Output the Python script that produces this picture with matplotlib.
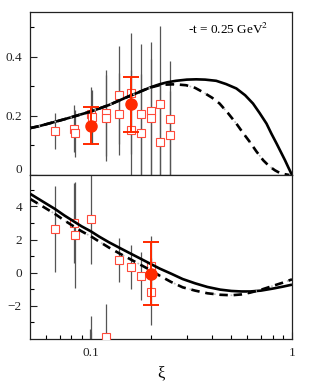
import matplotlib
matplotlib.use("Agg")
import matplotlib.pyplot as plt
from matplotlib.ticker import FixedLocator, NullFormatter
import matplotlib.transforms as mtransforms

plt.rcParams['font.family'] = ['Liberation Serif', 'DejaVu Serif']
plt.rcParams['mathtext.fontset'] = 'stix'

# ---------------- data: top panel ----------------
top_sq_xi  = [0.0663, 0.0822, 0.0832, 0.1003, 0.1010, 0.119, 0.119, 0.138, 0.138,
              0.158, 0.158, 0.1785, 0.1785, 0.199, 0.199, 0.2206, 0.2206, 0.2475, 0.2475]
top_sq_val = [0.148, 0.157, 0.141, 0.207, 0.196, 0.210, 0.193, 0.271, 0.207,
              0.276, 0.154, 0.205, 0.142, 0.216, 0.193, 0.242, 0.111, 0.188, 0.134]
top_sq_err = [0.061, 0.080, 0.080, 0.092, 0.092, 0.145, 0.145, 0.165, 0.140,
              0.205, 0.200, 0.238, 0.200, 0.235, 0.200, 0.262, 0.200, 0.199, 0.150]

top_pt_xi  = [0.1003, 0.158]
top_pt_val = [0.167, 0.240]
top_pt_err = [0.062, 0.093]

top_solid_xi  = [0.05, 0.055, 0.06, 0.0663, 0.074, 0.0822, 0.09, 0.1, 0.11, 0.123,
                 0.138, 0.155, 0.17, 0.184, 0.2, 0.219, 0.24, 0.265, 0.3, 0.334,
                 0.37, 0.42, 0.47, 0.529, 0.585, 0.64, 0.69, 0.747, 0.79, 0.839,
                 0.88, 0.923, 0.96, 1.0]
top_solid_val = [0.159, 0.165, 0.172, 0.180, 0.189, 0.198, 0.206, 0.215, 0.225, 0.237,
                 0.252, 0.267, 0.278, 0.288, 0.298, 0.307, 0.314, 0.319, 0.323, 0.324,
                 0.323, 0.319, 0.308, 0.293, 0.270, 0.242, 0.210, 0.174, 0.140, 0.106,
                 0.078, 0.050, 0.025, 0.0]
top_dash_xi  = [0.05, 0.055, 0.06, 0.0663, 0.074, 0.0822, 0.09, 0.1, 0.11, 0.123,
                0.138, 0.155, 0.17, 0.184, 0.2, 0.219, 0.235, 0.255, 0.275, 0.2975,
                0.33, 0.36, 0.4, 0.4365, 0.48, 0.529, 0.57, 0.617, 0.665, 0.719,
                0.77, 0.822, 0.88, 0.97]
top_dash_val = [0.159, 0.165, 0.172, 0.180, 0.189, 0.198, 0.206, 0.215, 0.225, 0.237,
                0.252, 0.267, 0.278, 0.288, 0.297, 0.304, 0.306, 0.307, 0.306, 0.304,
                0.295, 0.281, 0.262, 0.242, 0.210, 0.174, 0.143, 0.112, 0.080, 0.050,
                0.030, 0.016, 0.005, 0.0]

# ---------------- data: bottom panel ----------------
bot_sq_xi  = [0.0663, 0.0822, 0.0832, 0.1003, 0.119, 0.138, 0.158, 0.1785, 0.199, 0.199,
              0.1000, 0.0988]
bot_sq_val = [2.64, 3.00, 2.26, 3.24, -3.85, 0.76, 0.34, -0.22, 0.40, -1.14,
              -5.5, -5.5]
bot_sq_err = [2.60, 2.44, 3.20, 2.70, 1.95, 1.32, 1.32, 1.45, 1.80, 2.02,
              2.86, 2.10]

bot_pt_xi  = [0.199]
bot_pt_val = [-0.06]
bot_pt_err = [1.90]

bot_solid_xi  = [0.05, 0.058, 0.0663, 0.074, 0.0822, 0.09, 0.1, 0.11, 0.123, 0.138,
                 0.158, 0.1785, 0.199, 0.22, 0.25, 0.286, 0.33, 0.38, 0.44, 0.5,
                 0.56, 0.62, 0.7, 0.8, 0.9, 1.0]
bot_solid_val = [4.76, 4.28, 3.85, 3.45, 3.10, 2.80, 2.50, 2.18, 1.84, 1.52,
                 1.15, 0.82, 0.52, 0.25, -0.05, -0.38, -0.64, -0.86, -1.02, -1.10,
                 -1.13, -1.13, -1.08, -0.96, -0.84, -0.72]
bot_dash_xi  = [0.05, 0.058, 0.0663, 0.074, 0.0822, 0.09, 0.1, 0.11, 0.123, 0.138,
                0.158, 0.1785, 0.199, 0.22, 0.25, 0.286, 0.33, 0.38, 0.44, 0.5,
                0.56, 0.62, 0.7, 0.8, 0.9, 1.0]
bot_dash_val = [4.45, 3.98, 3.55, 3.15, 2.80, 2.50, 2.20, 1.88, 1.52, 1.18,
                0.80, 0.45, 0.14, -0.18, -0.55, -0.88, -1.08, -1.24, -1.33, -1.36,
                -1.31, -1.20, -1.03, -0.80, -0.60, -0.40]

label_text = "-t = 0.25 GeV$^2$"

# ---------------- figure ----------------
W, H = 312, 390
fig = plt.figure(figsize=(W/100, H/100), dpi=100)
left, right = 30.3/W, 292/W
ax1 = fig.add_axes([left, 1-175/H, right-left, (175-12)/H])
ax2 = fig.add_axes([left, 1-339/H, right-left, (339-175)/H])

red = '#ff2a00'
sqred = '#ff4a3a'
bar = '#555555'

def draw(ax, sx, sv, se, px, pv, pe, lx, lv, dx, dv):
    ax.errorbar(sx, sv, yerr=se, fmt='none', ecolor=bar, elinewidth=0.9, capsize=0, zorder=2)
    ax.plot(sx, sv, ls='none', marker='s', ms=5.3, mfc='white', mec=sqred, mew=0.8, zorder=3)
    ax.plot(lx, lv, color='black', lw=1.9, zorder=4, solid_capstyle='butt')
    ax.plot(dx, dv, color='#bbbbbb', lw=1.2, ls=(0, (1, 4)), zorder=4)
    ax.plot(dx, dv, color='black', lw=1.9, ls=(0, (3.2, 2.2)), zorder=4)
    ax.errorbar(px, pv, yerr=pe, fmt='o', ms=8, color=red, ecolor=red, elinewidth=1.4,
                capsize=5.5, capthick=1.4, zorder=5)

draw(ax1, top_sq_xi, top_sq_val, top_sq_err, top_pt_xi, top_pt_val, top_pt_err,
     top_solid_xi, top_solid_val, top_dash_xi, top_dash_val)
draw(ax2, bot_sq_xi, bot_sq_val, bot_sq_err, bot_pt_xi, bot_pt_val, bot_pt_err,
     bot_solid_xi, bot_solid_val, bot_dash_xi, bot_dash_val)

for ax in (ax1, ax2):
    ax.set_xscale('log')
    ax.set_xlim(0.05, 1.0)
    for s in ax.spines.values():
        s.set_linewidth(0.9)
        s.set_color('#222222')

ax1.set_ylim(0, 0.552)
ax2.set_ylim(-4, 5.9)

# y ticks
ax1.yaxis.set_major_locator(FixedLocator([0, 0.2, 0.4]))
ax1.yaxis.set_minor_locator(FixedLocator([0.1, 0.3, 0.5]))
ax1.set_yticklabels(['0', '0.2', '0.4'])
ax2.yaxis.set_major_locator(FixedLocator([-2, 0, 2, 4]))
ax2.yaxis.set_minor_locator(FixedLocator([-3, -1, 1, 3, 5]))
ax2.set_yticklabels(['\u22122', '0', '2', '4'])

# x ticks
ax2.xaxis.set_major_locator(FixedLocator([0.1, 1.0]))
ax2.xaxis.set_minor_locator(FixedLocator([0.06, 0.07, 0.08, 0.09, 0.2, 0.3, 0.4, 0.5,
                                          0.6, 0.7, 0.8, 0.9]))
ax2.set_xticklabels(['0.1', '1'])
ax2.xaxis.set_minor_formatter(NullFormatter())
ax1.tick_params(axis='x', which='both', bottom=False, labelbottom=False)

for ax in (ax1, ax2):
    ax.tick_params(which='major', direction='in', length=5, width=0.8, labelsize=9.5,
                   pad=6, colors='#222222')
    ax.tick_params(which='minor', direction='in', length=3, width=0.8)

# shift the top panel "0" label up
lbl0 = ax1.get_yticklabels()[0]
lbl0.set_transform(lbl0.get_transform() + mtransforms.ScaledTranslation(0, 6/100, fig.dpi_scale_trans))

ax2.set_xlabel('\u03be', fontsize=12, labelpad=4)

ax1.text(0.91, 0.895, label_text, transform=ax1.transAxes, ha='right', va='center',
         fontsize=9.5)

fig.savefig('out.png', dpi=100)
